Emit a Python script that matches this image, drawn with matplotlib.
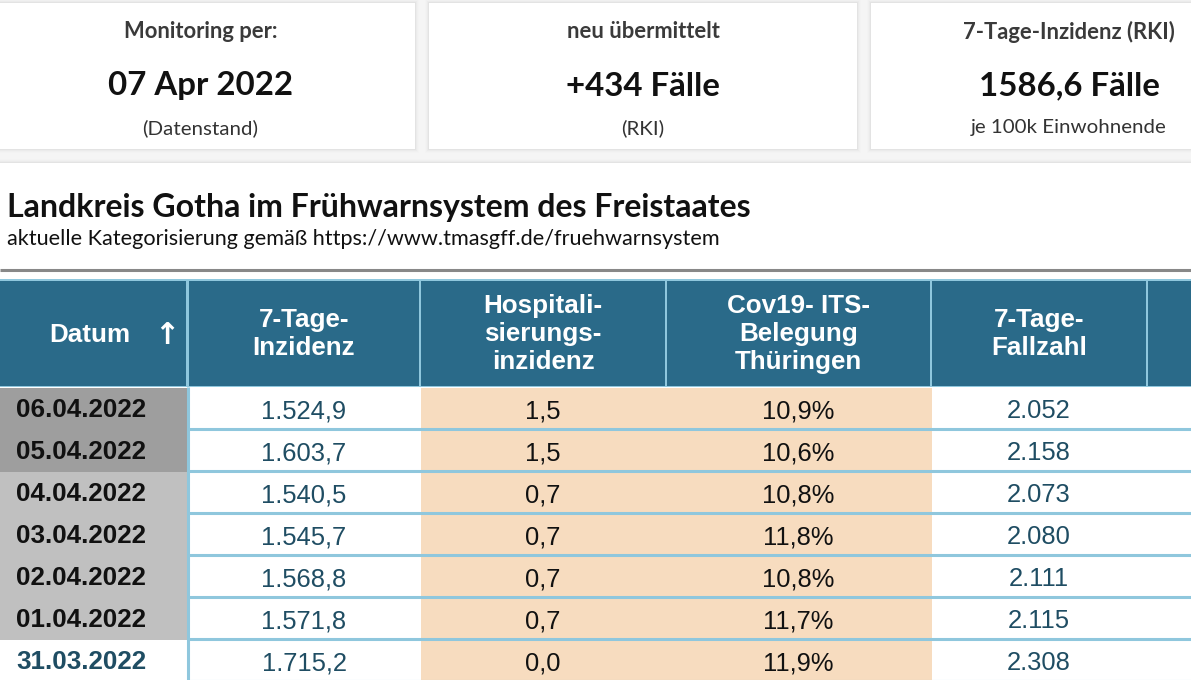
import matplotlib
matplotlib.use('Agg')
import matplotlib.pyplot as plt
from matplotlib.patches import Rectangle

W, H = 1191, 680

# top cards
card_titles = ['Monitoring per:', 'neu übermittelt', '7-Tage-Inzidenz (RKI)']
card_values = ['07 Apr 2022', '+434 Fälle', '1586,6 Fälle']
card_notes = ['(Datenstand)', '(RKI)', 'je 100k Einwohnende']

title = 'Landkreis Gotha im Frühwarnsystem des Freistaates'
subtitle = 'aktuelle Kategorisierung gemäß https://www.tmasgff.de/fruehwarnsystem'

# table
columns = ['Datum', '7-Tage-\nInzidenz', 'Hospitali-\nsierungs-\ninzidenz',
           'Cov19- ITS-\nBelegung\nThüringen', '7-Tage-\nFallzahl', '']
dates = ['06.04.2022', '05.04.2022', '04.04.2022', '03.04.2022',
         '02.04.2022', '01.04.2022', '31.03.2022']
inzidenz = [1524.9, 1603.7, 1540.5, 1545.7, 1568.8, 1571.8, 1715.2]
hosp = [1.5, 1.5, 0.7, 0.7, 0.7, 0.7, 0.0]
its = [10.9, 10.6, 10.8, 11.8, 10.8, 11.7, 11.9]
fallzahl = [2052, 2158, 2073, 2080, 2111, 2115, 2308]
date_level = [2, 2, 1, 1, 1, 1, 0]   # 2 = dark, 1 = light, 0 = none


def de(v, nd=1):
    s = f'{v:,.{nd}f}'
    return s.replace(',', '#').replace('.', ',').replace('#', '.')


def px(p):
    return p * 0.72


header_col = '#2a6a89'
line_blue = '#8fc7dd'
peach = '#f7dcbf'
val_blue = '#1f4d63'
date_bg = {2: '#9e9e9e', 1: '#c0c0c0', 0: 'white'}
date_fg = {2: '#111111', 1: '#111111', 0: '#1f4d63'}

fig = plt.figure(figsize=(W / 100, H / 100), dpi=100)
fig.patch.set_facecolor('#f5f5f5')
ax = fig.add_axes([0, 0, 1, 1])
ax.set_xlim(0, W)
ax.set_ylim(H, 0)
ax.axis('off')

lato = ['Lato', 'DejaVu Sans']
arial = ['Liberation Sans', 'DejaVu Sans']


def shadow_box(x0, y0, x1, y1):
    for i, a in enumerate([0.03, 0.02, 0.012, 0.006]):
        d = i + 1
        ax.add_patch(Rectangle((x0 - d, y0 - d), x1 - x0 + 2 * d, y1 - y0 + 2 * d,
                               facecolor='#000000', alpha=a, lw=0))
    ax.add_patch(Rectangle((x0, y0), x1 - x0, y1 - y0, facecolor='white', lw=0))


# cards
card_x = [(-14, 415), (429, 857), (871, 1267)]
for (x0, x1), t, v, n in zip(card_x, card_titles, card_values, card_notes):
    shadow_box(x0, 3, x1, 149)
    cx = (x0 + x1) / 2
    ax.text(cx, 32, t, ha='center', va='center', fontsize=px(22),
            fontweight='bold', color='#3a3a3a', family=lato)
    ax.text(cx, 86, v, ha='center', va='center', fontsize=px(33),
            fontweight='bold', color='#111111', family=lato)
    ax.text(cx, 128, n, ha='center', va='center', fontsize=px(20.5),
            color='#333333', family=lato)

# panel
shadow_box(-10, 163, W + 10, H + 10)
ax.text(7, 208, title, ha='left', va='center', fontsize=px(32),
        fontweight='bold', color='#111111', family=lato)
ax.text(7, 239, subtitle, ha='left', va='center', fontsize=px(21.7),
        color='#111111', family=lato)
ax.plot([0, W], [270, 270], color='#888888', lw=2.2, solid_capstyle='butt')

# table geometry
edges = [0, 188, 420, 666, 931, 1147, 1240]
head_top, head_bot = 279, 387
row_h = 42
ax.add_patch(Rectangle((0, head_top), W, head_bot - head_top, facecolor=line_blue, lw=0))
for i, name in enumerate(columns):
    x0, x1 = edges[i], edges[i + 1]
    ax.add_patch(Rectangle((x0 + (1 if i else 0), head_top + 2), x1 - x0 - 2, head_bot - head_top - 3,
                           facecolor=header_col, lw=0))
    if i == 0:
        ax.text(90, 335, name, ha='center', va='center', fontsize=px(26),
                fontweight='bold', color='white', family=arial)
        ax.text(167, 336, '↑', ha='center', va='center', fontsize=px(30),
                fontweight='bold', color='white', family=['DejaVu Sans'])
    elif name:
        ax.text((x0 + x1) / 2, 334, name, ha='center', va='center', fontsize=px(26),
                fontweight='bold', color='white', family=arial, linespacing=1.2)

col_vals = [
    [de(v) for v in inzidenz],
    [de(v) for v in hosp],
    [de(v) + '%' for v in its],
    [de(v, 0) for v in fallzahl],
    ['' for _ in dates],
]
col_bg = ['white', peach, peach, 'white', 'white']
col_fg = [val_blue, '#111111', '#111111', val_blue, val_blue]

for r, d in enumerate(dates):
    y0 = head_bot + 1 + r * row_h
    ax.add_patch(Rectangle((0, y0), edges[1] - 1, row_h, facecolor=date_bg[date_level[r]], lw=0))
    ax.text(16, y0 + row_h / 2 + 1, d, ha='left', va='center', fontsize=px(26),
            fontweight='bold', color=date_fg[date_level[r]], family=arial)
    for c in range(5):
        x0, x1 = edges[c + 1], edges[c + 2]
        ax.add_patch(Rectangle((x0 + 1, y0), x1 - x0, row_h - 2, facecolor=col_bg[c], lw=0))
        ax.text((x0 + x1) / 2 if c < 4 else x0, y0 + row_h / 2 + 2, col_vals[c][r],
                ha='center', va='center', fontsize=px(25.5), color=col_fg[c], family=arial)
    ax.plot([edges[1], W], [y0 + row_h - 1, y0 + row_h - 1], color=line_blue, lw=2.2,
            solid_capstyle='butt')

ax.plot([edges[1], edges[1]], [head_bot, H], color=line_blue, lw=2.2, solid_capstyle='butt')

fig.savefig('out.png', dpi=100, facecolor=fig.get_facecolor())
